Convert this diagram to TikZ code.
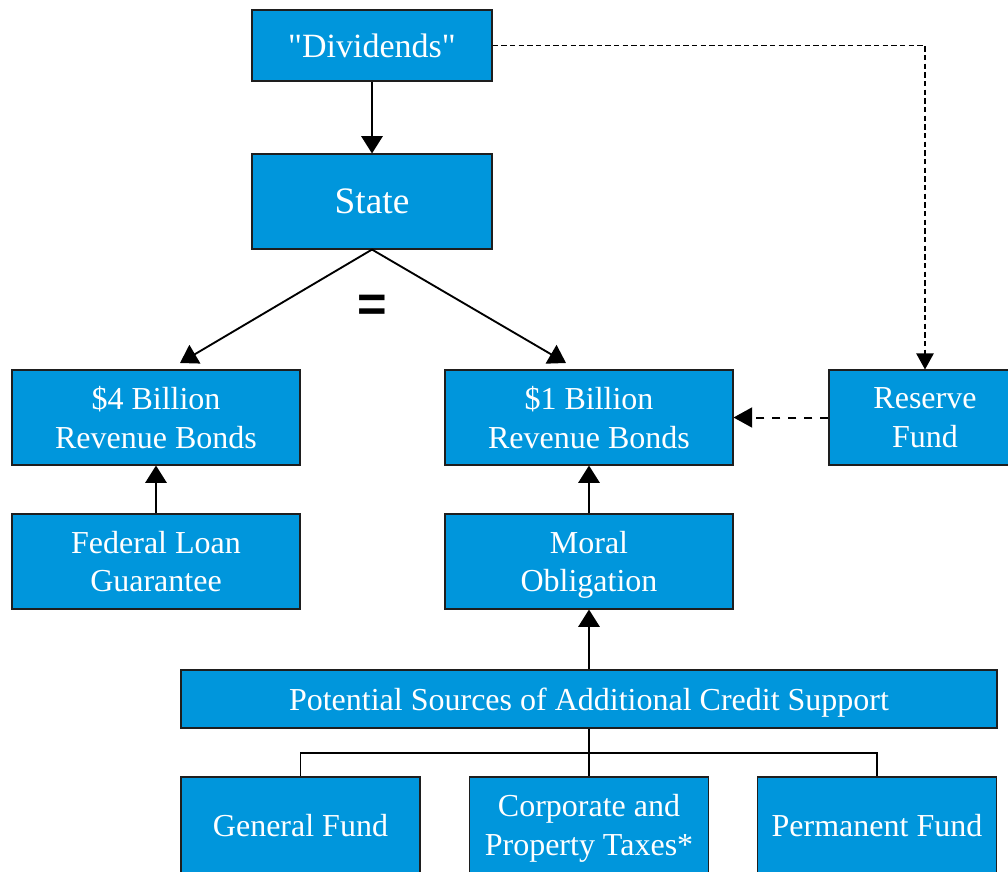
\documentclass[tikz,border=0pt]{standalone}
\usepackage{fontspec}
\setmainfont{Liberation Serif}
\newfontfamily\plainrm{Liberation Serif}
\newfontfamily\eqfont{Liberation Sans}
\usetikzlibrary{arrows.meta,calc}
\definecolor{boxblue}{RGB}{0,150,220}
\definecolor{boxline}{RGB}{30,30,30}
\begin{document}
\begin{tikzpicture}[x=0.75pt,y=-0.75pt,
  blk/.style={draw=boxline,line width=0.8pt,fill=boxblue,text=white,align=center,inner sep=0pt,
    text depth=0pt,font=\fontsize{24}{29}\selectfont},
  wide/.style={minimum width=216pt,minimum height=71.25pt},
  conn/.style={line width=1.4pt,-{Triangle[length=13pt,width=16pt]}},
  tree/.style={line width=1.4pt}]
\useasboundingbox (0,0) rectangle (1008,872);
\node[blk,minimum width=180pt,minimum height=53.25pt,font=\plainrm\fontsize{25.5}{30}\selectfont] (div) at (372,45.5) {"Dividends"};
\node[blk,minimum width=180pt,minimum height=71.25pt,font=\fontsize{28}{32}\selectfont] (state) at (372,201.5) {State};
\node[blk,wide] (b4) at (156,417.5) {\$4 Billion\\Revenue Bonds};
\node[blk,wide] (b1) at (589,417.5) {\$1 Billion\\Revenue Bonds};
\node[blk,minimum width=144pt,minimum height=71.25pt] (res) at (925,417.5) {Reserve\\Fund};
\node[blk,wide] (fed) at (156,561.5) {Federal Loan\\Guarantee};
\node[blk,wide] (moral) at (589,561.5) {Moral\\Obligation};
\node[blk,minimum width=612pt,minimum height=43.5pt] (pot) at (589,699) {Potential Sources of Additional Credit Support};
\node[blk,minimum width=179.25pt,minimum height=72pt] (gen) at (300.5,825) {General Fund};
\node[blk,minimum width=179.25pt,minimum height=72pt] (corp) at (589,825) {Corporate and\\Property Taxes*};
\node[blk,minimum width=179.25pt,minimum height=72pt] (perm) at (877,825) {Permanent Fund};
\node[font=\eqfont\bfseries\fontsize{38}{38}\selectfont,inner sep=0pt] (eq) at (372,308) {=};
\coordinate (t4) at (180,363);
\coordinate (t1) at (566,363);
\coordinate (bar) at (589,753);
\draw[conn] (div.south) -- (state.north);
\draw[conn] (state.south) -- (t4);
\draw[conn] (state.south) -- (t1);
\draw[line width=0.8pt,dash pattern=on 4pt off 2.5pt,-{Triangle[length=12pt,width=13pt]}] (div.east) -| (res.north);
\draw[line width=1.5pt,dash pattern=on 6pt off 6pt,-{Triangle[length=14pt,width=15pt]}] (res.west) -- (b1.east);
\draw[conn] (fed.north) -- (b4.south);
\draw[conn] (moral.north) -- (b1.south);
\draw[conn] (pot.north) -- (moral.south);
\draw[tree] (pot.south) -- (corp.north);
\draw[tree] (gen.north) |- (bar) -| (perm.north);
\end{tikzpicture}
\end{document}
